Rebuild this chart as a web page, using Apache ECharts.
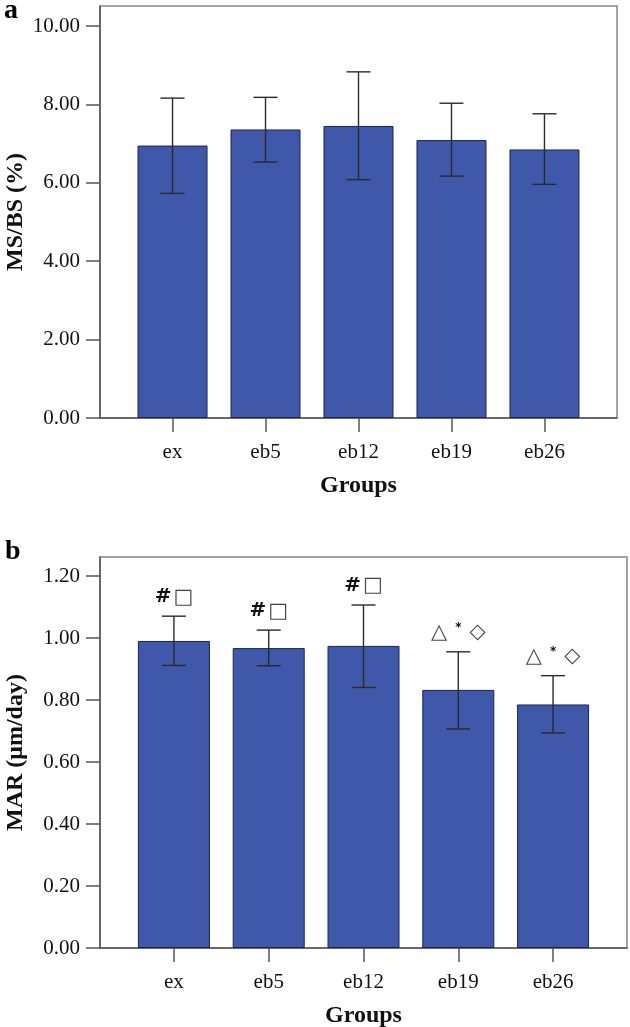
<!DOCTYPE html>
<html><head><meta charset="utf-8">
<script src="https://cdn.jsdelivr.net/npm/echarts@6/dist/echarts.min.js"></script>
<style>html,body{margin:0;padding:0;background:#fff}#c{width:630px;height:1027px}</style>
</head><body><div id="c"></div>
<script>
const categories = ['ex', 'eb5', 'eb12', 'eb19', 'eb26'];
const msbsMean = [6.95, 7.36, 7.45, 7.09, 6.85];
const msbsLow  = [5.73, 6.53, 6.08, 6.17, 5.96];
const msbsHigh = [8.16, 8.18, 8.83, 8.03, 7.76];
const marMean = [0.991, 0.968, 0.975, 0.833, 0.786];
const marLow  = [0.912, 0.911, 0.841, 0.707, 0.694];
const marHigh = [1.071, 1.026, 1.107, 0.956, 0.879];
const marMarks = ['# □', '# □', '# □', '△ * ◇', '△ * ◇'];
const msbsTicks = [0, 2, 4, 6, 8, 10];
const marTicks = [0, 0.2, 0.4, 0.6, 0.8, 1.0, 1.2];
const catIdx = categories.map((c, i) => i);

const SERIF = 'Liberation Serif';
const BAR = '#3f58aa';
const AX = '#555';

function toRich(s) {
  const parts = s.split(' ');
  const gap = s.indexOf('#') >= 0 ? '{g1| }' : '{g2| }';
  return parts.map(ch => {
    if (ch === '#') return '{h|#}';
    if (ch === '*') return '{a|*}';
    return '{s|' + ch + '}';
  }).join(gap);
}

function xAxisCfg(gi) {
  return {
    type: 'value', gridIndex: gi, min: -0.78, max: 4.78,
    axisLine: { show: true, onZero: false, lineStyle: { color: AX, width: 1.5 } },
    axisTick: { show: true, length: 14, customValues: catIdx, lineStyle: { color: AX, width: 1.5 } },
    axisLabel: { customValues: catIdx, formatter: v => categories[Math.round(v)], margin: 24,
      fontFamily: SERIF, fontSize: 21, color: '#111' },
    splitLine: { show: false },
    name: 'Groups', nameLocation: 'middle', nameGap: 56, nameMoveOverlap: false,
    nameTextStyle: { fontFamily: SERIF, fontWeight: 'bold', fontSize: 24, color: '#111' }
  };
}
function yAxisCfg(gi, max, ticks, name) {
  return {
    type: 'value', gridIndex: gi, min: 0, max: max,
    axisLine: { show: true, onZero: false, lineStyle: { color: AX, width: 1.5 } },
    axisTick: { show: true, length: 14, customValues: ticks, lineStyle: { color: AX, width: 1.5 } },
    axisLabel: { customValues: ticks, formatter: v => v.toFixed(2), margin: 20,
      fontFamily: SERIF, fontSize: 21, color: '#111' },
    splitLine: { show: false },
    name: name, nameLocation: 'middle', nameGap: 72, nameMoveOverlap: false,
    nameTextStyle: { fontFamily: SERIF, fontWeight: 'bold', fontSize: 24, color: '#111' }
  };
}
function barSeries(gi, mean, w) {
  return {
    type: 'bar', xAxisIndex: gi, yAxisIndex: gi, barWidth: w,
    data: mean.map((v, i) => [i, v]),
    itemStyle: { color: BAR, borderColor: '#1c2450', borderWidth: 1 },
    z: 2
  };
}
function errSeries(gi, low, high, marks) {
  return {
    type: 'custom', xAxisIndex: gi, yAxisIndex: gi, z: 5,
    data: low.map((v, i) => [i, v, high[i]]),
    encode: { x: 0, y: [1, 2] },
    renderItem: function (params, api) {
      const x = api.value(0), lo = api.value(1), hi = api.value(2);
      const pHi = api.coord([x, hi]), pLo = api.coord([x, lo]);
      const half = 12;
      const ls = { stroke: '#2a2a2a', lineWidth: 1.4 };
      const children = [
        { type: 'line', shape: { x1: pHi[0], y1: pHi[1], x2: pLo[0], y2: pLo[1] }, style: ls },
        { type: 'line', shape: { x1: pHi[0] - half, y1: pHi[1], x2: pHi[0] + half, y2: pHi[1] }, style: ls },
        { type: 'line', shape: { x1: pLo[0] - half, y1: pLo[1], x2: pLo[0] + half, y2: pLo[1] }, style: ls }
      ];
      if (marks) {
        const m = marks[params.dataIndex];
        children.push({
          type: 'text',
          style: {
            x: pHi[0], y: pHi[1] - 19, align: 'center', verticalAlign: 'middle',
            text: toRich(m),
            rich: {
              h: { fontFamily: 'DejaVu Sans', fontWeight: 'bold', fontSize: 20, fill: '#111' },
              s: { fontFamily: 'DejaVu Sans', fontSize: 21, fill: '#444' },
              a: { fontFamily: 'DejaVu Sans', fontWeight: 'bold', fontSize: 12, fill: '#111', verticalAlign: 'top', padding: [0, 0, 8, 0] },
              g1: { width: 2 },
              g2: { width: 8 }
            }
          }
        });
      }
      return { type: 'group', children: children };
    }
  };
}

const chart = echarts.init(document.getElementById('c'), null, { renderer: 'canvas' });
chart.setOption({
  animation: false,
  backgroundColor: '#fff',
  title: [
    { text: 'a', left: 4, top: -3, padding: 0, textStyle: { fontFamily: SERIF, fontWeight: 'bold', fontSize: 28, color: '#000' } },
    { text: 'b', left: 5, top: 538, padding: 0, textStyle: { fontFamily: SERIF, fontWeight: 'bold', fontSize: 28, color: '#000' } }
  ],
  grid: [
    { left: 100, right: 13, top: 6, bottom: 609, show: true, borderColor: '#888', borderWidth: 1.5, outerBoundsMode: 'none', containLabel: false },
    { left: 100, right: 3, top: 557, bottom: 79, show: true, borderColor: '#888', borderWidth: 1.5, outerBoundsMode: 'none', containLabel: false }
  ],
  xAxis: [xAxisCfg(0), xAxisCfg(1)],
  yAxis: [yAxisCfg(0, 10.51, msbsTicks, 'MS/BS (%)'), yAxisCfg(1, 1.262, marTicks, 'MAR (μm/day)')],
  series: [
    barSeries(0, msbsMean, 70),
    errSeries(0, msbsLow, msbsHigh, null),
    barSeries(1, marMean, 72),
    errSeries(1, marLow, marHigh, marMarks)
  ]
});
</script></body></html>
